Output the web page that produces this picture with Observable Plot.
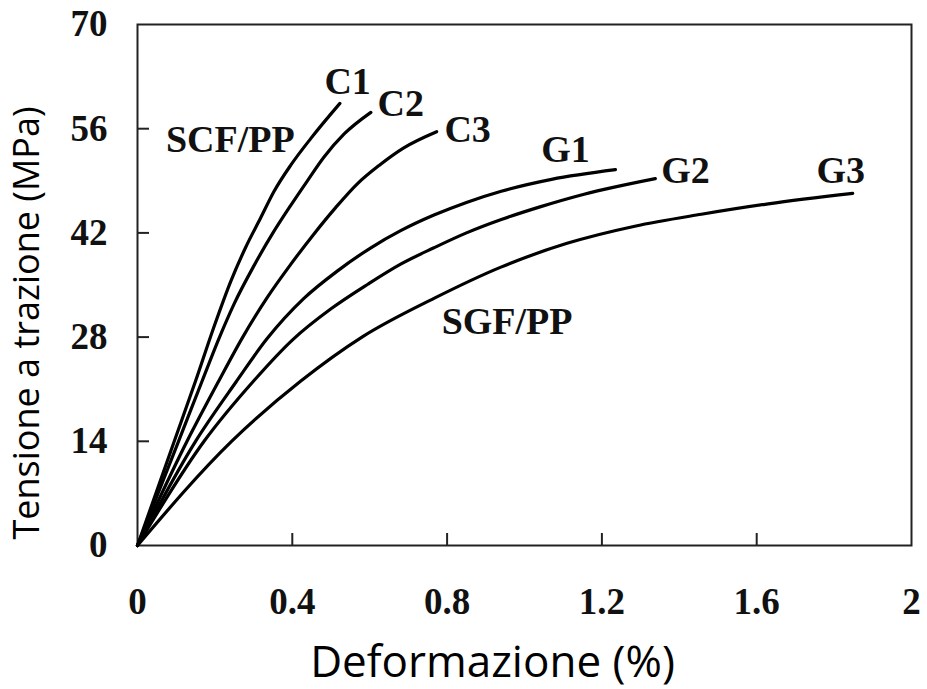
<!DOCTYPE html>
<html>
<head>
<meta charset="utf-8">
<script src="https://cdn.jsdelivr.net/npm/d3@7"></script>
<script src="https://cdn.jsdelivr.net/npm/@observablehq/plot@0.6"></script>
<style>
  body { margin: 0; background: #fff; }
  svg { display: block; }
</style>
</head>
<body>
<div id="chart"></div>
<script>
// ---- data ----
const seriesNames = ["C1", "C2", "C3", "G1", "G2", "G3"];

const c1Strain = [0, 0.095, 0.150, 0.197, 0.241, 0.279, 0.318, 0.353, 0.396, 0.448, 0.523];
const c1Stress = [0, 14, 22.1, 29.3, 35.5, 40.0, 44.0, 47.6, 51.1, 54.7, 59.4];

const c2Strain = [0, 0.106, 0.167, 0.212, 0.250, 0.300, 0.350, 0.396, 0.439, 0.482, 0.534, 0.603];
const c2Stress = [0, 14, 22.1, 28, 32.5, 37.5, 42, 45.7, 49.0, 52.2, 55.3, 58.2];

const c3Strain = [0, 0.128, 0.210, 0.272, 0.335, 0.395, 0.455, 0.512, 0.568, 0.625, 0.687, 0.773];
const c3Stress = [0, 14, 22.1, 28, 33.3, 37.7, 41.8, 45.4, 48.6, 51.1, 53.4, 55.6];

const g1Strain = [0, 0.150, 0.255, 0.335, 0.430, 0.517, 0.603, 0.680, 0.766, 0.850, 0.940, 1.070, 1.235];
const g1Stress = [0, 14, 22, 27.8, 33.2, 36.9, 40.0, 42.3, 44.4, 46.1, 47.6, 49.2, 50.5];

const g2Strain = [0, 0.172, 0.300, 0.400, 0.500, 0.595, 0.680, 0.766, 0.850, 0.940, 1.040, 1.154, 1.338];
const g2Stress = [0, 14, 22.1, 27.6, 31.8, 35.1, 37.8, 40.0, 42.0, 43.8, 45.5, 47.2, 49.3];

const g3Strain = [0, 0.243, 0.422, 0.580, 0.766, 0.939, 1.110, 1.285, 1.457, 1.630, 1.848];
const g3Stress = [0, 14, 22.1, 28, 33.2, 37.4, 40.6, 42.9, 44.5, 45.9, 47.3];

const labelText = ["C1", "C2", "C3", "G1", "G2", "G3", "SCF/PP", "SGF/PP"];
const labelX    = [0.543, 0.680, 0.853, 1.106, 1.416, 1.817, 0.240, 0.955];
const labelY    = [62.3, 59.4, 55.8, 53.1, 50.4, 50.4, 54.5, 30.0];

const xTicks = [0, 0.4, 0.8, 1.2, 1.6, 2];
const yTicks = [0, 14, 28, 42, 56, 70];

const xTitle = "Deformazione (%)";
const yTitle = "Tensione a trazione (MPa)";

// ---- build tables ----
const strains = [c1Strain, c2Strain, c3Strain, g1Strain, g2Strain, g3Strain];
const stresses = [c1Stress, c2Stress, c3Stress, g1Stress, g2Stress, g3Stress];
const curves = seriesNames.flatMap((name, i) =>
  strains[i].map((s, j) => ({name, strain: s, stress: stresses[i][j]}))
);
const labels = labelText.map((t, i) => ({text: t, x: labelX[i], y: labelY[i]}));

const W = 927, H = 689;
const mL = 137, mR = 16, mT = 24, mB = 144;
const frameW = W - mL - mR, frameH = H - mT - mB;
const tickLen = 12;
const ink = "#111";

const chart = Plot.plot({
  width: W, height: H,
  marginLeft: mL, marginRight: mR, marginTop: mT, marginBottom: mB,
  x: {domain: [0, 2]},
  y: {domain: [0, 70]},
  style: {background: "#fff", color: ink},
  marks: [
    Plot.frame({stroke: "#222", strokeWidth: 2}),
    Plot.tickX(xTicks.slice(1, -1), {x: d => d, insetTop: frameH - tickLen, stroke: "#222", strokeWidth: 2}),
    Plot.tickY(yTicks.slice(1, -1), {y: d => d, insetRight: frameW - tickLen, stroke: "#222", strokeWidth: 2}),
    Plot.axisX(xTicks, {
      tickSize: 0, tickPadding: 42, label: null,
      tickFormat: d => String(d),
      fontSize: 37, fontWeight: "bold", fontFamily: "Liberation Serif", fill: ink
    }),
    Plot.axisY(yTicks, {
      tickSize: 0, tickPadding: 30, label: null,
      tickFormat: d => String(d),
      fontSize: 37, fontWeight: "bold", fontFamily: "Liberation Serif", fill: ink
    }),
    Plot.line(curves, {
      x: "strain", y: "stress", z: "name",
      curve: "monotone-x", stroke: "#000", strokeWidth: 3.2
    }),
    Plot.text(labels, {
      x: "x", y: "y", text: "text",
      fontSize: 38, fontWeight: "bold", fontFamily: "Liberation Serif", fill: ink
    }),
    Plot.text([xTitle], {
      text: d => d, frameAnchor: "bottom", textAnchor: "middle", lineAnchor: "middle",
      dx: -32, dy: 117,
      fontSize: 44, fontFamily: "Open Sans", fill: "#000"
    }),
    Plot.text([yTitle], {
      text: d => d, frameAnchor: "left", textAnchor: "middle", lineAnchor: "middle",
      rotate: -90, dx: -110, dy: 38,
      fontSize: 36, fontFamily: "Open Sans", fill: "#000"
    })
  ]
});

document.getElementById("chart").appendChild(chart);
</script>
</body>
</html>
